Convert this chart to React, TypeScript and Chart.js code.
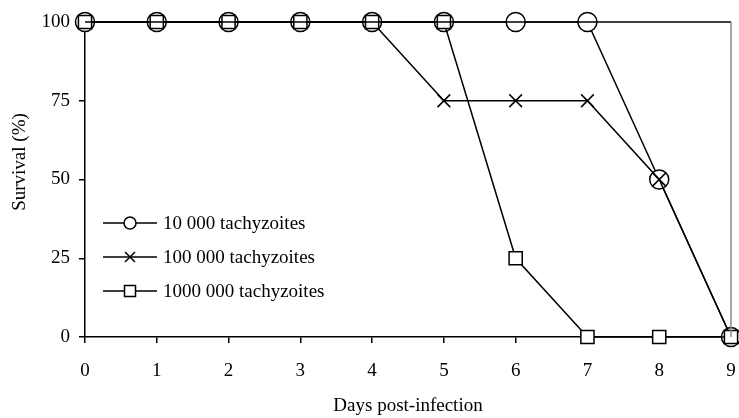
import React, { useEffect, useRef } from "react";
import { Chart, registerables } from "chart.js";

Chart.register(...registerables);

const days = [0, 1, 2, 3, 4, 5, 6, 7, 8, 9];
const s10k = [100, 100, 100, 100, 100, 100, 100, 100, 50, 0];
const s100k = [100, 100, 100, 100, 100, 75, 75, 75, 50, 0];
const s1m = [100, 100, 100, 100, 100, 100, 25, 0, 0, 0];
const seriesNames = ["10 000 tachyzoites", "100 000 tachyzoites", "1000 000 tachyzoites"];
const yTicks = [0, 25, 50, 75, 100];
const xTitle = "Days post-infection";
const yTitle = "Survival (%)";

const FONT = "'Liberation Serif', 'Times New Roman', serif";

const framePlugin = {
  id: "frame",
  afterDraw(chart: any) {
    const { ctx, chartArea } = chart;
    const { left, right, top, bottom } = chartArea;
    ctx.save();
    ctx.strokeStyle = "#000";
    ctx.lineWidth = 1.5;
    ctx.beginPath();
    ctx.moveTo(left, top);
    ctx.lineTo(right, top);
    ctx.stroke();
    ctx.strokeStyle = "#8a8a8a";
    ctx.beginPath();
    ctx.moveTo(right, top);
    ctx.lineTo(right, bottom);
    ctx.stroke();
    // y title
    ctx.fillStyle = "#000";
    ctx.font = "19px " + FONT;
    ctx.textAlign = "center";
    ctx.textBaseline = "middle";
    ctx.translate(20, 162);
    ctx.rotate(-Math.PI / 2);
    ctx.fillText(yTitle, 0, 0);
    ctx.restore();
  },
};

const legendPlugin = {
  id: "customLegend",
  afterDatasetsDraw(chart: any) {
    const { ctx } = chart;
    const styles = ["circle", "crossRot", "rect"];
    const rows = [223, 257, 291];
    ctx.save();
    rows.forEach((y, i) => {
      ctx.strokeStyle = "#000";
      ctx.lineWidth = 1.5;
      ctx.beginPath();
      ctx.moveTo(103, y);
      ctx.lineTo(157, y);
      ctx.stroke();
      ctx.fillStyle = "#fff";
      ctx.beginPath();
      if (styles[i] === "circle") {
        ctx.arc(130, y, 6, 0, Math.PI * 2);
        ctx.fill();
        ctx.stroke();
      } else if (styles[i] === "rect") {
        ctx.rect(124.5, y - 5.5, 11, 11);
        ctx.fill();
        ctx.stroke();
      } else {
        ctx.moveTo(125, y - 5);
        ctx.lineTo(135, y + 5);
        ctx.moveTo(135, y - 5);
        ctx.lineTo(125, y + 5);
        ctx.stroke();
      }
      ctx.fillStyle = "#000";
      ctx.font = "19px " + FONT;
      ctx.textAlign = "left";
      ctx.textBaseline = "middle";
      ctx.fillText(seriesNames[i], 163, y + 1);
    });
    ctx.restore();
  },
};

export default function App() {
  const ref = useRef<HTMLCanvasElement>(null);
  useEffect(() => {
    document.body.style.margin = "0";
    const mk = (arr: number[]) => days.map((d, i) => ({ x: d, y: arr[i] }));
    const common = {
      borderColor: "#000",
      borderWidth: 1.5,
      pointBackgroundColor: "#fff",
      pointBorderColor: "#000",
      pointBorderWidth: 1.5,
      tension: 0,
      clip: false as any,
      fill: false,
    };
    const chart = new Chart(ref.current!, {
      type: "line",
      data: {
        datasets: [
          { ...common, label: seriesNames[0], data: mk(s10k), pointStyle: "circle", pointRadius: 9.5, order: 3 },
          { ...common, label: seriesNames[1], data: mk(s100k), pointStyle: "crossRot", pointRadius: 9, order: 2 },
          { ...common, label: seriesNames[2], data: mk(s1m), pointStyle: "rect", pointRadius: 9.3, order: 1 },
        ],
      },
      options: {
        responsive: false,
        animation: false,
        events: [],
        layout: { autoPadding: false, padding: { top: 22, right: 8, left: 0, bottom: 0 } },
        plugins: { legend: { display: false }, tooltip: { enabled: false } },
        scales: {
          x: {
            type: "linear",
            min: 0,
            max: 9,
            afterFit: (s: any) => { s.height = 81; s.paddingRight = 0; s.paddingLeft = 0; },
            afterBuildTicks: (s: any) => { s.ticks = days.map((v) => ({ value: v })); },
            grid: { display: true, drawOnChartArea: false, drawTicks: true, tickLength: 6, color: "#000", lineWidth: 1.5 },
            border: { display: true, color: "#000", width: 1.5 },
            ticks: { color: "#000", font: { family: FONT, size: 19 }, padding: 17, maxRotation: 0 },
            title: { display: true, text: xTitle, color: "#000", font: { family: FONT, size: 19 }, padding: { top: 0, bottom: 1 } },
          },
          y: {
            type: "linear",
            min: 0,
            max: 100,
            afterFit: (s: any) => { s.width = 85; },
            afterBuildTicks: (s: any) => { s.ticks = yTicks.map((v) => ({ value: v })); },
            grid: { display: true, drawOnChartArea: false, drawTicks: true, tickLength: 6, color: "#000", lineWidth: 1.5 },
            border: { display: true, color: "#000", width: 1.5 },
            ticks: { color: "#000", font: { family: FONT, size: 19 }, padding: 9 },
          },
        },
      },
      plugins: [framePlugin, legendPlugin],
    });
    return () => chart.destroy();
  }, []);
  return (
    <div style={{ width: 739, height: 418 }}>
      <canvas ref={ref} width={739} height={418} style={{ display: "block", width: 739, height: 418 }} />
    </div>
  );
}
